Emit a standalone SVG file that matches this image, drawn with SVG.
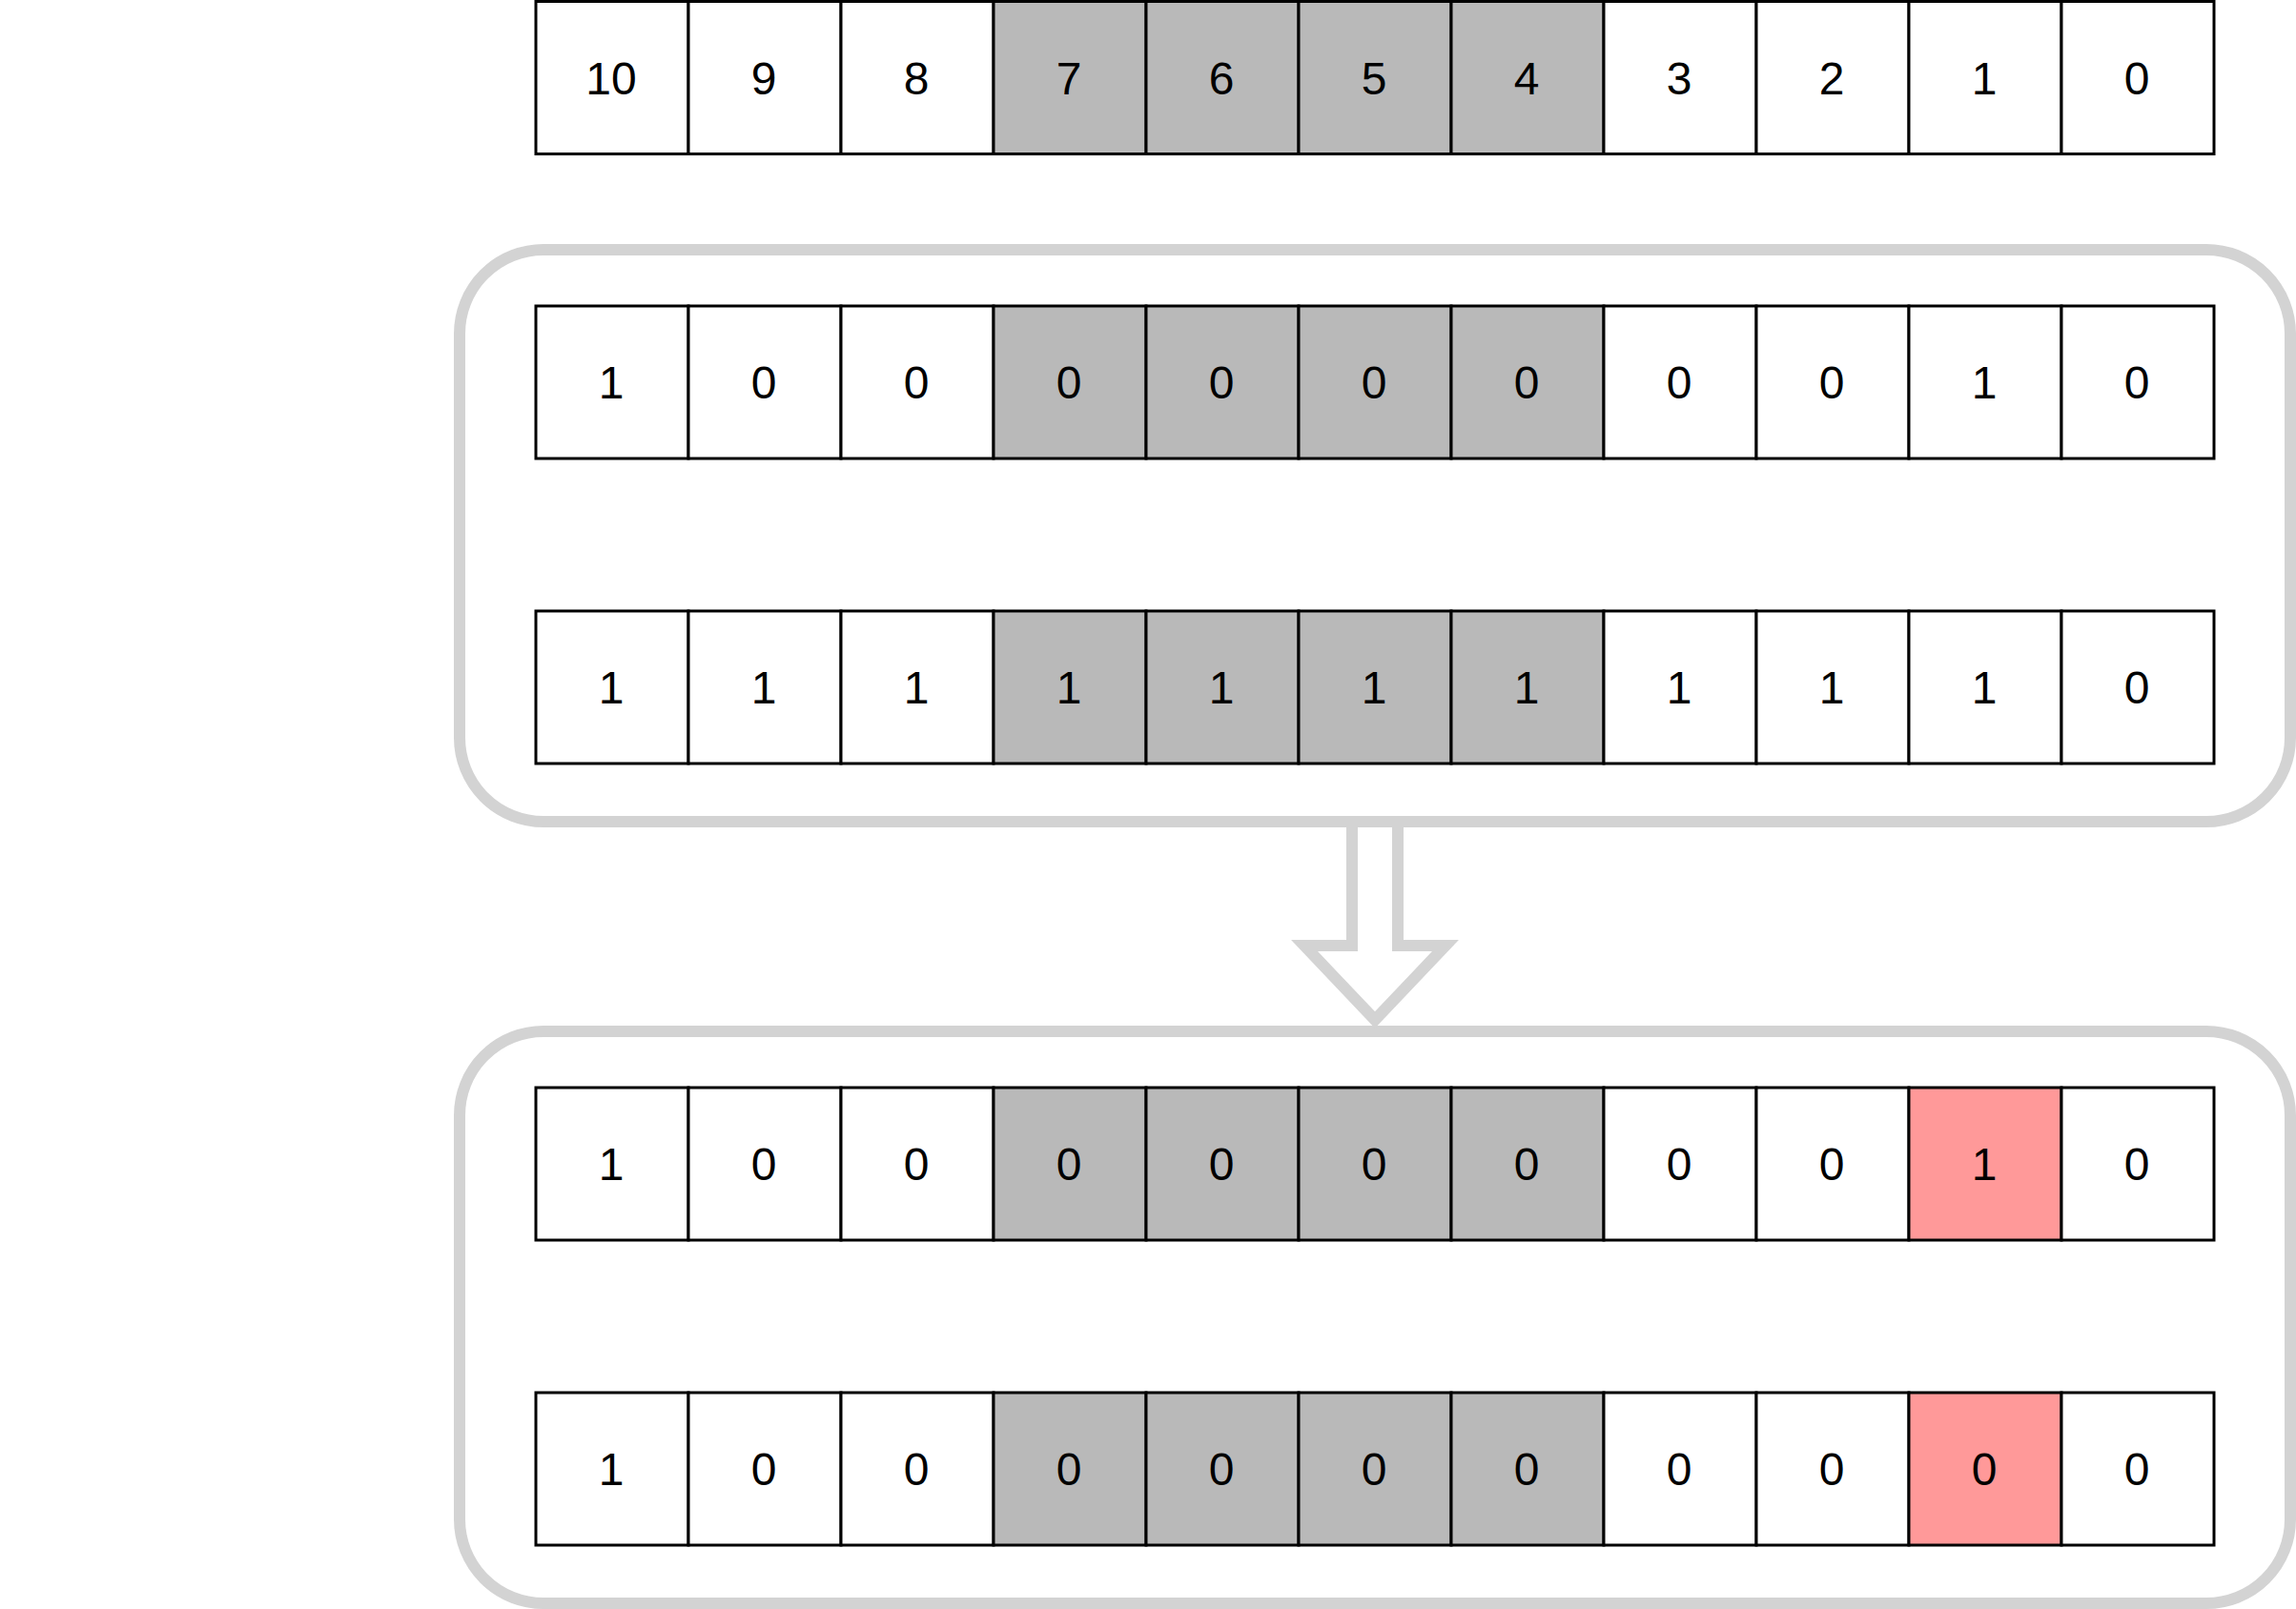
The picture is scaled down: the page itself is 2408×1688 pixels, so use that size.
<svg xmlns="http://www.w3.org/2000/svg" width="2408" height="1688" viewBox="0 0 2408 1688">
<style>
.c{stroke:#000;stroke-width:3;fill:#fff}
.g{fill:#B9B9B9}
.r{fill:#FF9999}
.box{fill:none;stroke:#D3D3D3;stroke-width:12}
text{font-family:"Liberation Sans",Arial,sans-serif;font-size:48px;fill:#000;text-anchor:middle}
</style>
<rect width="2408" height="1688" fill="#fff"/>
<g id="container1"><rect class="box" x="482" y="262" width="1920" height="600" rx="88"/></g>
<g id="container2"><rect class="box" x="482" y="1082" width="1920" height="600" rx="88"/></g>
<g id="connectors">
<polygon points="1418,862 1466,862 1466,992 1516,992 1442,1070 1368,992 1418,992" fill="#fff" stroke="#D3D3D3" stroke-width="12"/>
</g>
<g id="row-index">
<g id="r1c0"><rect class="c" x="562" y="1.5" width="160" height="160"/><text x="641" y="99">10</text></g>
<g id="r1c1"><rect class="c" x="722" y="1.5" width="160" height="160"/><text x="801" y="99">9</text></g>
<g id="r1c2"><rect class="c" x="882" y="1.5" width="160" height="160"/><text x="961" y="99">8</text></g>
<g id="r1c3"><rect class="c g" x="1042" y="1.5" width="160" height="160"/><text x="1121" y="99">7</text></g>
<g id="r1c4"><rect class="c g" x="1202" y="1.5" width="160" height="160"/><text x="1281" y="99">6</text></g>
<g id="r1c5"><rect class="c g" x="1362" y="1.5" width="160" height="160"/><text x="1441" y="99">5</text></g>
<g id="r1c6"><rect class="c g" x="1522" y="1.5" width="160" height="160"/><text x="1601" y="99">4</text></g>
<g id="r1c7"><rect class="c" x="1682" y="1.5" width="160" height="160"/><text x="1761" y="99">3</text></g>
<g id="r1c8"><rect class="c" x="1842" y="1.5" width="160" height="160"/><text x="1921" y="99">2</text></g>
<g id="r1c9"><rect class="c" x="2002" y="1.5" width="160" height="160"/><text x="2081" y="99">1</text></g>
<g id="r1c10"><rect class="c" x="2162" y="1.5" width="160" height="160"/><text x="2241" y="99">0</text></g>
</g>
<g id="row-2">
<g id="r2c0"><rect class="c" x="562" y="321" width="160" height="160"/><text x="641" y="418">1</text></g>
<g id="r2c1"><rect class="c" x="722" y="321" width="160" height="160"/><text x="801" y="418">0</text></g>
<g id="r2c2"><rect class="c" x="882" y="321" width="160" height="160"/><text x="961" y="418">0</text></g>
<g id="r2c3"><rect class="c g" x="1042" y="321" width="160" height="160"/><text x="1121" y="418">0</text></g>
<g id="r2c4"><rect class="c g" x="1202" y="321" width="160" height="160"/><text x="1281" y="418">0</text></g>
<g id="r2c5"><rect class="c g" x="1362" y="321" width="160" height="160"/><text x="1441" y="418">0</text></g>
<g id="r2c6"><rect class="c g" x="1522" y="321" width="160" height="160"/><text x="1601" y="418">0</text></g>
<g id="r2c7"><rect class="c" x="1682" y="321" width="160" height="160"/><text x="1761" y="418">0</text></g>
<g id="r2c8"><rect class="c" x="1842" y="321" width="160" height="160"/><text x="1921" y="418">0</text></g>
<g id="r2c9"><rect class="c" x="2002" y="321" width="160" height="160"/><text x="2081" y="418">1</text></g>
<g id="r2c10"><rect class="c" x="2162" y="321" width="160" height="160"/><text x="2241" y="418">0</text></g>
</g>
<g id="row-3">
<g id="r3c0"><rect class="c" x="562" y="641" width="160" height="160"/><text x="641" y="738">1</text></g>
<g id="r3c1"><rect class="c" x="722" y="641" width="160" height="160"/><text x="801" y="738">1</text></g>
<g id="r3c2"><rect class="c" x="882" y="641" width="160" height="160"/><text x="961" y="738">1</text></g>
<g id="r3c3"><rect class="c g" x="1042" y="641" width="160" height="160"/><text x="1121" y="738">1</text></g>
<g id="r3c4"><rect class="c g" x="1202" y="641" width="160" height="160"/><text x="1281" y="738">1</text></g>
<g id="r3c5"><rect class="c g" x="1362" y="641" width="160" height="160"/><text x="1441" y="738">1</text></g>
<g id="r3c6"><rect class="c g" x="1522" y="641" width="160" height="160"/><text x="1601" y="738">1</text></g>
<g id="r3c7"><rect class="c" x="1682" y="641" width="160" height="160"/><text x="1761" y="738">1</text></g>
<g id="r3c8"><rect class="c" x="1842" y="641" width="160" height="160"/><text x="1921" y="738">1</text></g>
<g id="r3c9"><rect class="c" x="2002" y="641" width="160" height="160"/><text x="2081" y="738">1</text></g>
<g id="r3c10"><rect class="c" x="2162" y="641" width="160" height="160"/><text x="2241" y="738">0</text></g>
</g>
<g id="row-4">
<g id="r4c0"><rect class="c" x="562" y="1141" width="160" height="160"/><text x="641" y="1238">1</text></g>
<g id="r4c1"><rect class="c" x="722" y="1141" width="160" height="160"/><text x="801" y="1238">0</text></g>
<g id="r4c2"><rect class="c" x="882" y="1141" width="160" height="160"/><text x="961" y="1238">0</text></g>
<g id="r4c3"><rect class="c g" x="1042" y="1141" width="160" height="160"/><text x="1121" y="1238">0</text></g>
<g id="r4c4"><rect class="c g" x="1202" y="1141" width="160" height="160"/><text x="1281" y="1238">0</text></g>
<g id="r4c5"><rect class="c g" x="1362" y="1141" width="160" height="160"/><text x="1441" y="1238">0</text></g>
<g id="r4c6"><rect class="c g" x="1522" y="1141" width="160" height="160"/><text x="1601" y="1238">0</text></g>
<g id="r4c7"><rect class="c" x="1682" y="1141" width="160" height="160"/><text x="1761" y="1238">0</text></g>
<g id="r4c8"><rect class="c" x="1842" y="1141" width="160" height="160"/><text x="1921" y="1238">0</text></g>
<g id="r4c9"><rect class="c r" x="2002" y="1141" width="160" height="160"/><text x="2081" y="1238">1</text></g>
<g id="r4c10"><rect class="c" x="2162" y="1141" width="160" height="160"/><text x="2241" y="1238">0</text></g>
</g>
<g id="row-5">
<g id="r5c0"><rect class="c" x="562" y="1461" width="160" height="160"/><text x="641" y="1558">1</text></g>
<g id="r5c1"><rect class="c" x="722" y="1461" width="160" height="160"/><text x="801" y="1558">0</text></g>
<g id="r5c2"><rect class="c" x="882" y="1461" width="160" height="160"/><text x="961" y="1558">0</text></g>
<g id="r5c3"><rect class="c g" x="1042" y="1461" width="160" height="160"/><text x="1121" y="1558">0</text></g>
<g id="r5c4"><rect class="c g" x="1202" y="1461" width="160" height="160"/><text x="1281" y="1558">0</text></g>
<g id="r5c5"><rect class="c g" x="1362" y="1461" width="160" height="160"/><text x="1441" y="1558">0</text></g>
<g id="r5c6"><rect class="c g" x="1522" y="1461" width="160" height="160"/><text x="1601" y="1558">0</text></g>
<g id="r5c7"><rect class="c" x="1682" y="1461" width="160" height="160"/><text x="1761" y="1558">0</text></g>
<g id="r5c8"><rect class="c" x="1842" y="1461" width="160" height="160"/><text x="1921" y="1558">0</text></g>
<g id="r5c9"><rect class="c r" x="2002" y="1461" width="160" height="160"/><text x="2081" y="1558">0</text></g>
<g id="r5c10"><rect class="c" x="2162" y="1461" width="160" height="160"/><text x="2241" y="1558">0</text></g>
</g>
</svg>
